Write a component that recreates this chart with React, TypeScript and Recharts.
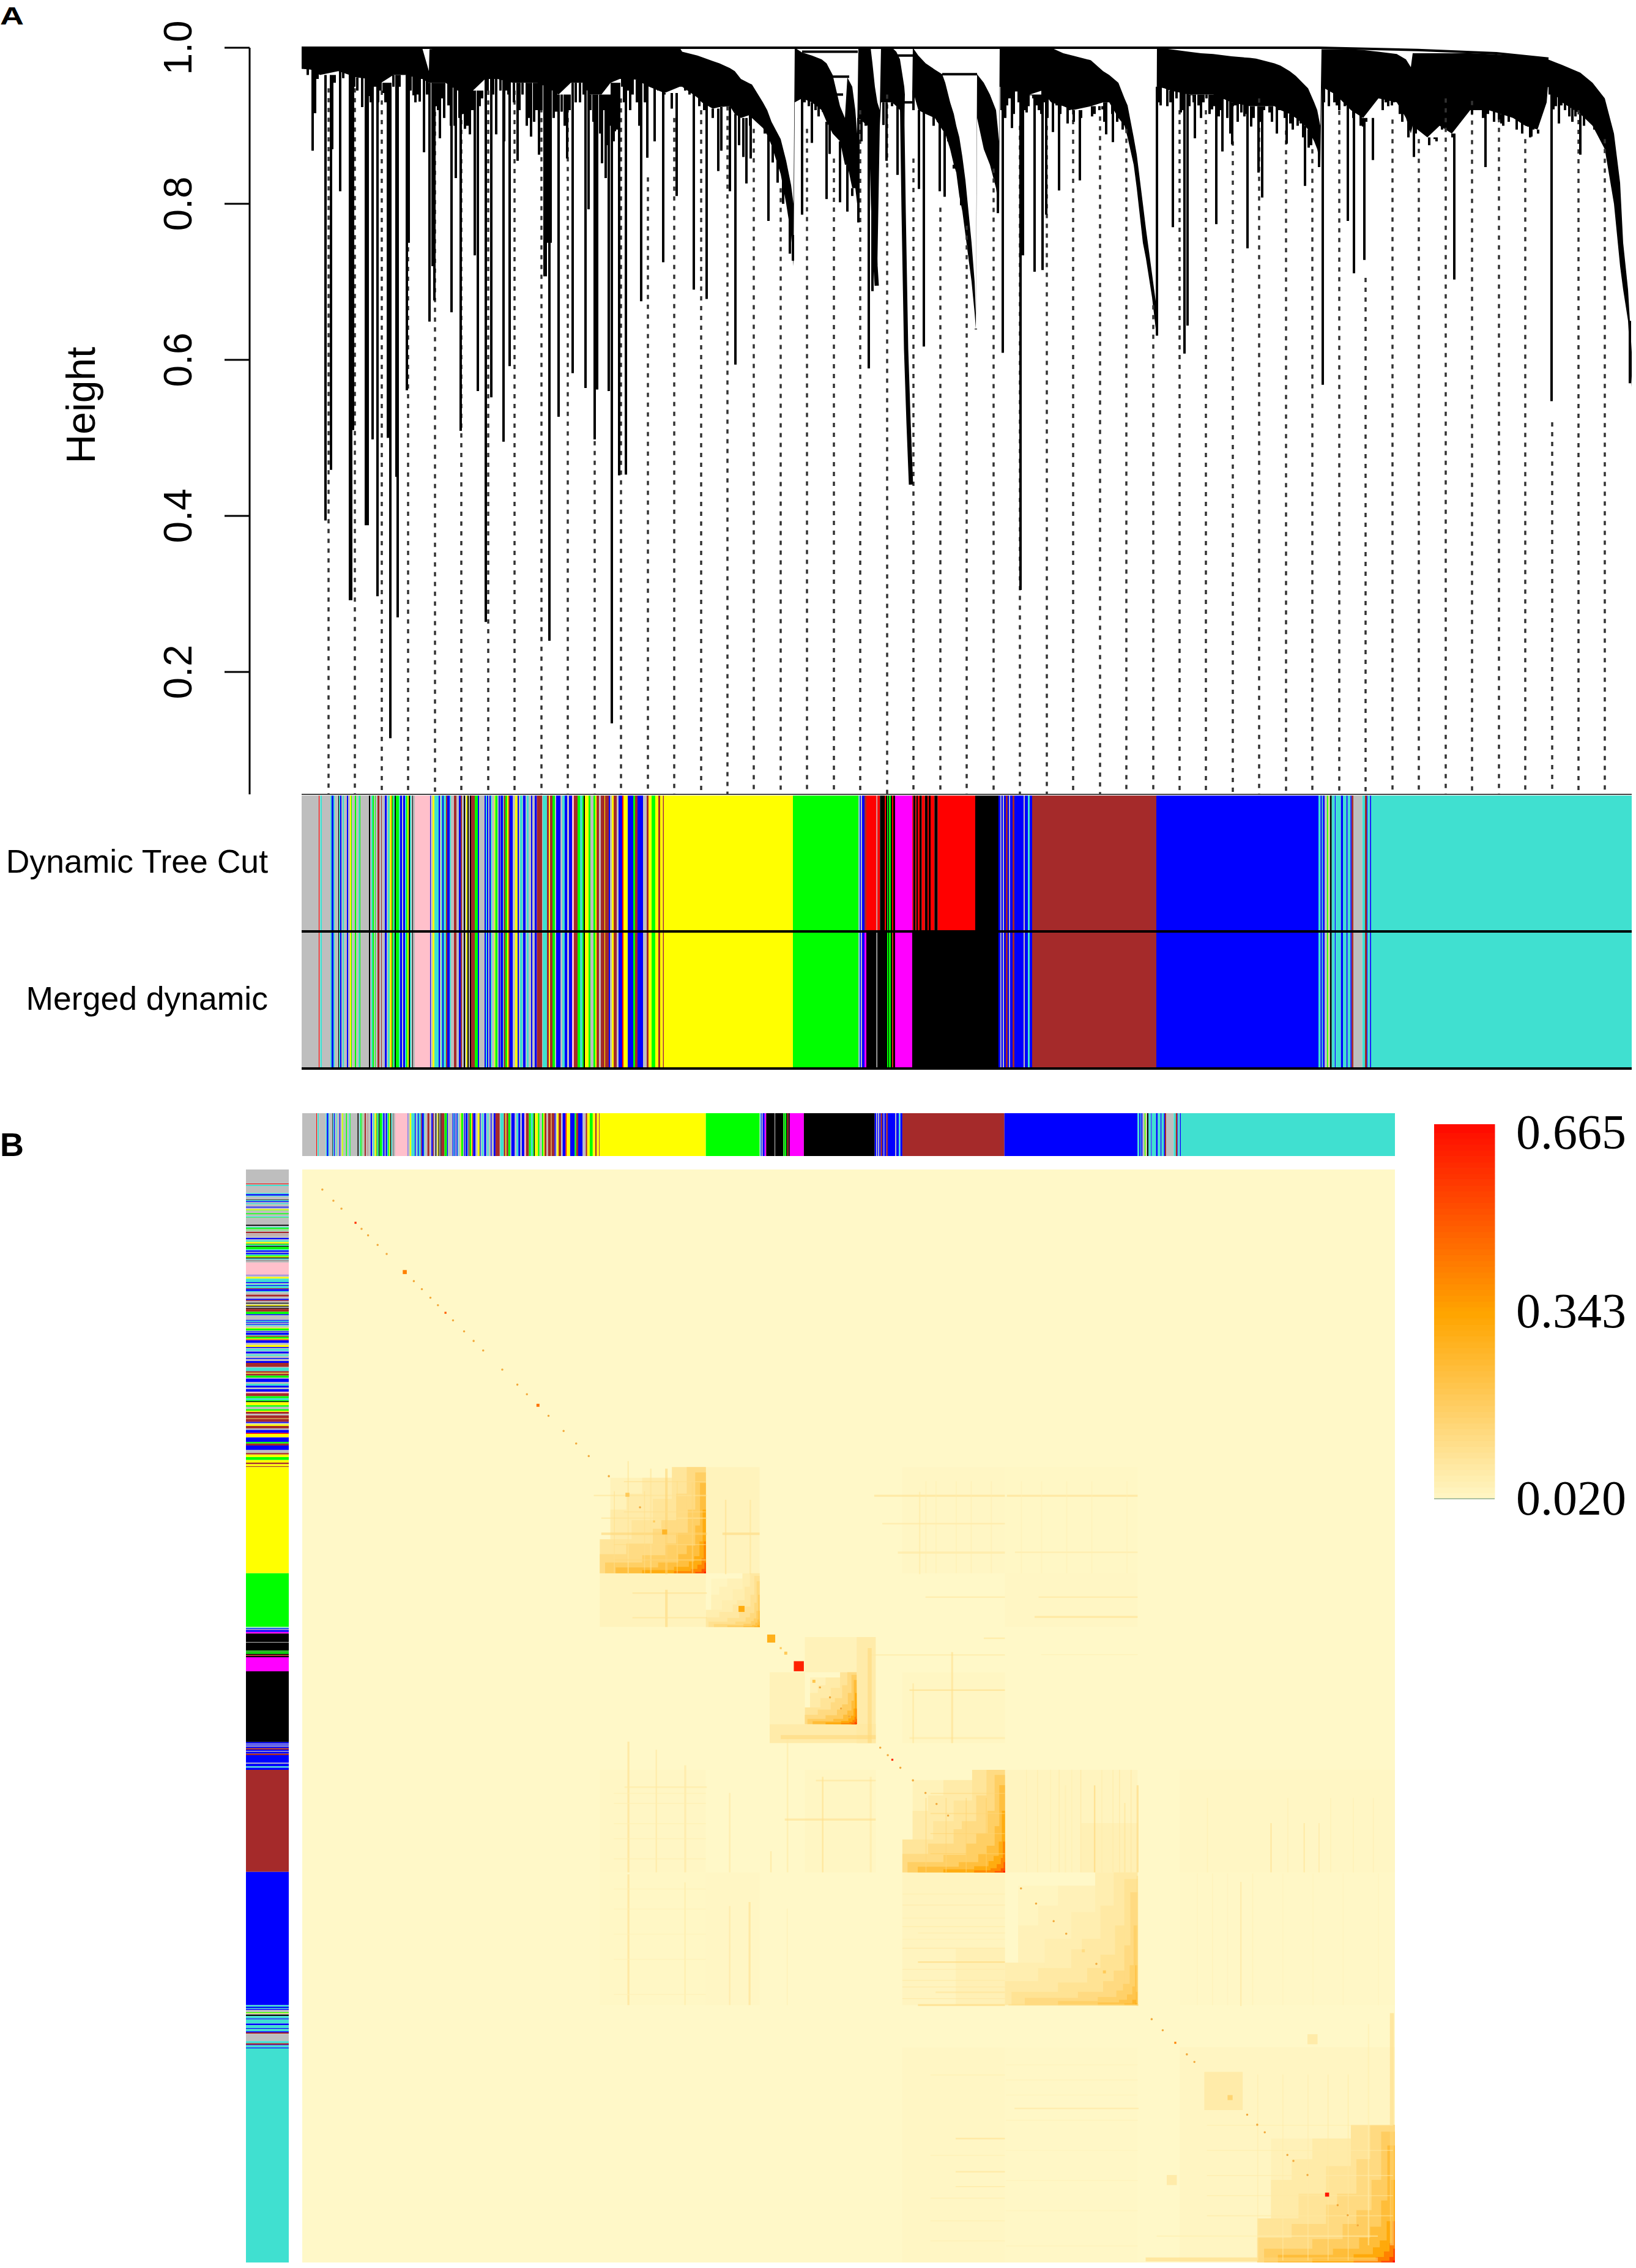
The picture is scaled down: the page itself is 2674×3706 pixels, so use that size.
import React from 'react';
import {
  Area,
  Bar,
  BarChart,
  ComposedChart,
  Line,
  ReferenceArea,
  ReferenceLine,
  Scatter,
  XAxis,
  YAxis,
  ZAxis,
} from 'recharts';

// every position along the tree, the strips and the heatmap is a gene rank (0 .. geneCount)
const geneCount = 2174;

const heightTicks = [0.2, 0.4, 0.6, 0.8, 1.0];
const stripRows = ['Dynamic Tree Cut', 'Merged dynamic'];
const tomTicks = [0.02, 0.343, 0.665];

const moduleFill: Record<string, string> = {
  grey: '#BEBEBE',
  turquoise: '#40E0D0',
  blue: '#0000FF',
  brown: '#A52A2A',
  yellow: '#FFFF00',
  green: '#00FF00',
  red: '#FF0000',
  black: '#000000',
  pink: '#FFC0CB',
  magenta: '#FF00FF',
};

// rank, upper and lower height of the solid mass of merges
const treeCanopy: [number, number, number][] = [
  [0, 1, 0.973], [15, 1, 0.972], [30, 1, 0.965], [60, 1, 0.97], [90, 1, 0.962], [110, 1, 0.96],
  [130, 1, 0.955], [150, 1, 0.965], [170, 1, 0.965], [195, 1, 0.96], [197, 1, 0.96], [208, 0.97, 0.955],
  [209, 0.998, 0.955], [235, 1, 0.955], [255, 1, 0.945], [280, 1, 0.945], [300, 1, 0.96], [320, 1, 0.96],
  [345, 1, 0.955], [370, 1, 0.955], [385, 1, 0.955], [400, 1, 0.95], [420, 1, 0.94], [440, 1, 0.955],
  [460, 1, 0.955], [470, 1, 0.94], [490, 1, 0.94], [505, 1, 0.955], [520, 1, 0.96], [535, 1, 0.96],
  [547, 1, 0.959], [568, 1, 0.95], [593, 1, 0.942], [618, 1, 0.95], [622, 0.995, 0.95], [647, 0.99, 0.936],
  [654, 0.988, 0.93], [672, 0.983, 0.922], [683, 0.98, 0.924], [700, 0.974, 0.925], [708, 0.97, 0.915],
  [718, 0.96, 0.91], [733, 0.954, 0.914], [736, 0.953, 0.91], [754, 0.93, 0.897], [761, 0.92, 0.888],
  [768, 0.905, 0.875], [783, 0.883, 0.838], [792, 0.855, 0.8], [800, 0.824, 0.76], [804, 0.8, 0.72],
  [806, 1, 0.93], [818, 0.994, 0.935], [834, 0.99, 0.93], [850, 0.985, 0.92], [858, 0.98, 0.905],
  [868, 0.965, 0.89], [880, 0.925, 0.88], [888, 0.91, 0.85], [892, 0.962, 0.85], [900, 0.95, 0.82],
  [905, 0.92, 0.82], [908, 0.89, 0.8], [910, 1, 0.91], [925, 1, 0.9], [930, 1, 0.85], [933, 0.98, 0.8],
  [937, 0.95, 0.76], [941, 0.93, 0.72], [945, 0.92, 0.9], [947, 1, 0.93], [965, 1, 0.93], [972, 0.995, 0.925],
  [978, 0.985, 0.92], [985, 0.95, 0.9], [986, 0.94, 0.94], [998, 0.94, 0.94], [999, 1, 0.945],
  [1008, 0.99, 0.92], [1020, 0.98, 0.915], [1035, 0.972, 0.91], [1047, 0.966, 0.895], [1052, 0.955, 0.89],
  [1060, 0.93, 0.87], [1066, 0.915, 0.85], [1070, 0.9, 0.84], [1075, 0.885, 0.81], [1080, 0.86, 0.79],
  [1085, 0.83, 0.76], [1090, 0.79, 0.73], [1095, 0.75, 0.7], [1100, 0.7, 0.66], [1102, 0.66, 0.64],
  [1104, 0.966, 0.91], [1115, 0.955, 0.87], [1125, 0.94, 0.85], [1135, 0.92, 0.82], [1140, 0.88, 0.79],
  [1141, 1, 0.95], [1170, 1, 0.945], [1190, 1, 0.94], [1210, 1, 0.945], [1225, 1, 0.93], [1245, 0.993, 0.925],
  [1260, 0.99, 0.92], [1290, 0.984, 0.925], [1310, 0.97, 0.93], [1320, 0.965, 0.93], [1335, 0.955, 0.91],
  [1345, 0.935, 0.9], [1350, 0.926, 0.885], [1360, 0.885, 0.85], [1365, 0.863, 0.82], [1375, 0.8, 0.75],
  [1380, 0.768, 0.73], [1390, 0.71, 0.68], [1396, 0.675, 0.64], [1398, 1, 0.95], [1410, 0.999, 0.948],
  [1420, 0.998, 0.945], [1450, 0.995, 0.94], [1470, 0.993, 0.94], [1490, 0.992, 0.94], [1520, 0.989, 0.93],
  [1550, 0.987, 0.925], [1560, 0.986, 0.925], [1590, 0.98, 0.925], [1600, 0.977, 0.92], [1615, 0.97, 0.915],
  [1625, 0.964, 0.91], [1640, 0.952, 0.9], [1645, 0.948, 0.895], [1655, 0.93, 0.88], [1660, 0.92, 0.87],
  [1665, 0.9, 0.85], [1667, 0.998, 0.95], [1690, 0.998, 0.94], [1715, 0.998, 0.92], [1735, 0.997, 0.91],
  [1760, 0.995, 0.935], [1790, 0.992, 0.93], [1805, 0.985, 0.91], [1813, 0.975, 0.89], [1816, 0.993, 0.9],
  [1840, 0.993, 0.885], [1860, 0.993, 0.9], [1880, 0.993, 0.89], [1910, 0.993, 0.92], [1940, 0.992, 0.92],
  [1960, 0.991, 0.915], [1980, 0.99, 0.91], [2000, 0.989, 0.9], [2020, 0.987, 0.895], [2035, 0.986, 0.93],
  [2037, 0.985, 0.95], [2060, 0.978, 0.93], [2090, 0.968, 0.915], [2110, 0.955, 0.9], [2130, 0.935, 0.87],
  [2145, 0.89, 0.8], [2155, 0.827, 0.72], [2160, 0.75, 0.69], [2168, 0.69, 0.65], [2174, 0.61, 0.565],
];

// rank and tip height of the single branches hanging from the mass
const treeDrops: [number, number][] = [
  [18, 0.868], [22, 0.916], [34, 0.965], [39, 0.394], [48, 0.459], [50, 0.87], [63, 0.816], [68, 0.961],
  [79, 0.292], [81, 0.292], [84, 0.51], [99, 0.924], [105, 0.388], [108, 0.388], [111, 0.938], [116, 0.498],
  [124, 0.297], [134, 0.942], [141, 0.5], [145, 0.115], [155, 0.45], [157, 0.27], [172, 0.561], [175, 0.75],
  [183, 0.939], [193, 0.931], [200, 0.866], [209, 0.649], [214, 0.72], [217, 0.676], [226, 0.884], [240, 0.926],
  [245, 0.661], [252, 0.833], [260, 0.509], [267, 0.896], [275, 0.889], [283, 0.734], [288, 0.56], [295, 0.935],
  [301, 0.264], [310, 0.552], [318, 0.889], [331, 0.88], [330, 0.495], [340, 0.592], [353, 0.855], [375, 0.886],
  [388, 0.863], [397, 0.707], [399, 0.707], [401, 0.75], [403, 0.75], [405, 0.24], [407, 0.75], [416, 0.918],
  [420, 0.527], [425, 0.918], [434, 0.858], [443, 0.583], [464, 0.564], [469, 0.793], [479, 0.498], [483, 0.562],
  [491, 0.852], [497, 0.833], [502, 0.56], [507, 0.134], [512, 0.893], [519, 0.452], [530, 0.453], [541, 0.94],
  [555, 0.675], [565, 0.859], [577, 0.88], [591, 0.725], [605, 0.922], [613, 0.81], [641, 0.69], [662, 0.678],
  [681, 0.842], [686, 0.868], [700, 0.816], [709, 0.594], [727, 0.826], [734, 0.858], [763, 0.778], [770, 0.853],
  [778, 0.827], [787, 0.8], [798, 0.736], [803, 0.727], [818, 0.786], [834, 0.878], [845, 0.912], [852, 0.918],
  [858, 0.806], [863, 0.864], [880, 0.802], [892, 0.79], [900, 0.81], [910, 0.776], [927, 0.589], [933, 0.688],
  [939, 0.699], [951, 0.901], [956, 0.855], [974, 0.837], [1009, 0.819], [1017, 0.617], [1043, 0.816], [1051, 0.809],
  [1066, 0.845], [1078, 0.798], [1102, 0.639], [1138, 0.788], [1146, 0.609], [1175, 0.305], [1179, 0.734],
  [1198, 0.713], [1211, 0.715], [1217, 0.786], [1238, 0.817], [1272, 0.83], [1326, 0.879], [1337, 0.917],
  [1398, 0.631], [1404, 0.926], [1424, 0.77], [1443, 0.608], [1448, 0.644], [1460, 0.884], [1495, 0.774],
  [1505, 0.867], [1521, 0.876], [1546, 0.743], [1564, 0.84], [1570, 0.808], [1594, 0.89], [1610, 0.877],
  [1640, 0.823], [1663, 0.847], [1669, 0.568], [1710, 0.778], [1720, 0.711], [1737, 0.728], [1751, 0.856],
  [1782, 0.926], [1818, 0.86], [1852, 0.883], [1884, 0.703], [1935, 0.847], [1961, 0.903], [2010, 0.886],
  [2043, 0.547], [2055, 0.903], [2090, 0.863], [2171, 0.57],
];

// the short fringe of branches under the mass
const treeFringe: [number, number][] = [
  [10, 0.965], [26, 0.96], [33, 0.965], [43, 0.97], [54, 0.955], [58, 0.965], [74, 0.967], [86, 0.95], [91, 0.945],
  [99, 0.93], [106, 0.94], [113, 0.93], [120, 0.95], [125, 0.93], [129, 0.945], [137, 0.93], [140, 0.94], [150, 0.95],
  [160, 0.95], [178, 0.945], [186, 0.93], [190, 0.94], [205, 0.94], [215, 0.935], [220, 0.925], [223, 0.92], [229, 0.935],
  [233, 0.91], [244, 0.9], [250, 0.9], [258, 0.91], [263, 0.915], [271, 0.9], [279, 0.92], [291, 0.925], [304, 0.945],
  [313, 0.94], [325, 0.945], [334, 0.945], [338, 0.94], [347, 0.93], [356, 0.92], [361, 0.94], [368, 0.9], [372, 0.91],
  [380, 0.905], [384, 0.92], [392, 0.92], [412, 0.91], [415, 0.918], [430, 0.9], [438, 0.92], [448, 0.93], [455, 0.93],
  [461, 0.94], [472, 0.92], [477, 0.905], [488, 0.89], [495, 0.92], [500, 0.875], [504, 0.9], [510, 0.88], [515, 0.895],
  [524, 0.95], [527, 0.93], [533, 0.945], [537, 0.92], [548, 0.93], [552, 0.9], [561, 0.93], [572, 0.95], [583, 0.945],
  [593, 0.94], [600, 0.955], [618, 0.95], [627, 0.945], [634, 0.94], [650, 0.925], [658, 0.92], [672, 0.91], [683, 0.93],
  [693, 0.93], [704, 0.93], [715, 0.875], [722, 0.86], [733, 0.9], [750, 0.905], [757, 0.89], [765, 0.88], [779, 0.85],
  [822, 0.93], [829, 0.925], [840, 0.92], [849, 0.925], [861, 0.93], [870, 0.9], [915, 0.88], [922, 0.9], [940, 0.91],
  [945, 0.93], [958, 0.93], [965, 0.925], [970, 0.93], [1000, 0.92], [1013, 0.93], [1025, 0.915], [1033, 0.9],
  [1040, 0.905], [1057, 0.88], [1072, 0.85], [1144, 0.92], [1147, 0.93], [1150, 0.91], [1153, 0.926], [1157, 0.935],
  [1161, 0.897], [1164, 0.915], [1168, 0.944], [1172, 0.93], [1178, 0.953], [1181, 0.92], [1185, 0.917], [1188, 0.925],
  [1192, 0.939], [1196, 0.935], [1202, 0.926], [1205, 0.92], [1209, 0.915], [1213, 0.93], [1219, 0.91], [1223, 0.944],
  [1228, 0.892], [1231, 0.93], [1234, 0.926], [1240, 0.915], [1246, 0.93], [1252, 0.903], [1255, 0.92], [1258, 0.935],
  [1262, 0.905], [1266, 0.926], [1270, 0.92], [1274, 0.91], [1277, 0.926], [1283, 0.921], [1287, 0.93], [1292, 0.912],
  [1296, 0.915], [1300, 0.93], [1304, 0.92], [1309, 0.921], [1312, 0.905], [1315, 0.889], [1321, 0.94], [1325, 0.915],
  [1330, 0.93], [1333, 0.905], [1338, 0.926], [1342, 0.895], [1347, 0.917], [1402, 0.93], [1411, 0.948], [1415, 0.925],
  [1420, 0.93], [1424, 0.953], [1430, 0.935], [1437, 0.917], [1441, 0.92], [1445, 0.944], [1451, 0.925], [1454, 0.939],
  [1458, 0.93], [1466, 0.926], [1470, 0.91], [1474, 0.93], [1479, 0.935], [1484, 0.915], [1488, 0.921], [1492, 0.925],
  [1499, 0.912], [1503, 0.92], [1509, 0.935], [1513, 0.91], [1518, 0.89], [1522, 0.925], [1526, 0.926], [1530, 0.905],
  [1536, 0.917], [1541, 0.912], [1545, 0.915], [1552, 0.899], [1556, 0.91], [1559, 0.93], [1567, 0.905], [1573, 0.92],
  [1576, 0.93], [1582, 0.917], [1586, 0.905], [1590, 0.926], [1598, 0.92], [1603, 0.935], [1607, 0.91], [1616, 0.903],
  [1620, 0.895], [1624, 0.912], [1628, 0.9], [1633, 0.903], [1637, 0.885], [1646, 0.872], [1650, 0.875], [1656, 0.881],
  [1671, 0.93], [1675, 0.948], [1679, 0.925], [1684, 0.953], [1688, 0.93], [1692, 0.926], [1696, 0.92], [1701, 0.948],
  [1705, 0.925], [1710, 0.915], [1714, 0.944], [1719, 0.91], [1727, 0.926], [1731, 0.9], [1735, 0.899], [1740, 0.905],
  [1744, 0.921], [1750, 0.92], [1756, 0.93], [1761, 0.953], [1767, 0.92], [1772, 0.93], [1776, 0.925], [1785, 0.93],
  [1790, 0.948], [1795, 0.915], [1799, 0.905], [1803, 0.926], [1809, 0.885], [1821, 0.89], [1825, 0.912], [1831, 0.908],
  [1835, 0.89], [1840, 0.912], [1843, 0.875], [1846, 0.899], [1850, 0.89], [1855, 0.88], [1859, 0.917], [1864, 0.895],
  [1867, 0.926], [1872, 0.905], [1876, 0.939], [1881, 0.885], [1888, 0.91], [1893, 0.939], [1898, 0.915], [1903, 0.905],
  [1906, 0.93], [1913, 0.915], [1918, 0.935], [1922, 0.92], [1927, 0.926], [1931, 0.91], [1939, 0.915], [1944, 0.939],
  [1949, 0.905], [1953, 0.92], [1957, 0.908], [1964, 0.9], [1968, 0.921], [1973, 0.905], [1978, 0.915], [1982, 0.93],
  [1986, 0.895], [1991, 0.912], [1995, 0.89], [2000, 0.903], [2005, 0.899], [2008, 0.885], [2013, 0.895], [2016, 0.912],
  [2021, 0.89], [2025, 0.912], [2030, 0.905], [2040, 0.94], [2046, 0.921], [2050, 0.925], [2059, 0.926], [2065, 0.92],
  [2072, 0.912], [2077, 0.905], [2082, 0.912], [2096, 0.9], [2101, 0.91], [2106, 0.935], [2113, 0.895], [2119, 0.917],
  [2123, 0.885], [2127, 0.908],
];

// thin joining branches, each one a list of rank/height points
const treeBranches: [number, number][][] = [
  [[0, 1], [1663, 1], [1825, 0.997], [1953, 0.993], [2038, 0.986]],
  [[818, 0.995], [909, 0.995]],
  [[965, 0.99], [999, 0.99]],
  [[868, 0.963], [895, 0.963]],
  [[1047, 0.966], [1104, 0.966]],
  [[983, 0.93], [999, 0.93]],
  [[870, 0.94], [885, 0.94]],
];

// the two long thick branches that run down to the lowest tips
const treeCurves: [number, number][][] = [
  [[981, 0.95], [984, 0.79], [988, 0.614], [992, 0.52], [996, 0.44]],
  [[929, 0.95], [934, 0.8], [938, 0.72], [940, 0.695]],
];

// dashed cut guides: rank and the height they start from
const guideRanks = [
  44, 87, 131, 174, 218, 261, 305, 348, 392, 435, 479, 522, 566, 609, 653, 696, 739, 783, 826, 870, 913, 957, 1000,
  1044, 1087, 1131, 1174, 1218, 1261, 1305, 1348, 1392, 1435, 1478, 1522, 1565, 1609, 1652, 1696, 1739, 1783, 1826,
  1870, 1913, 1957, 2000, 2044, 2087, 2130,
];
const guideTops = [
  0.948, 0.948, 0.945, 0.945, 0.943, 0.945, 0.945, 0.945, 0.935, 0.935, 0.935, 0.935, 0.834, 0.91, 0.92, 0.925,
  0.896, 0.82, 0.896, 0.858, 0.92, 0.94, 0.858, 0.795, 0.772, 0.845, 0.9, 0.9, 0.92, 0.912, 0.896, 0.67, 0.92, 0.92,
  0.88, 0.935, 0.894, 0.87, 0.932, 0.705, 0.908, 0.883, 0.935, 0.932, 0.91, 0.883, 0.52, 0.92, 0.883,
];

// module colour runs in tree order: module and the rank it starts at
const runsBeforeCut: [string, number][] = [
  ['grey', 0], ['red', 28], ['grey', 29.5], ['turquoise', 30.5], ['grey', 33], ['turquoise', 47], ['blue', 49],
  ['turquoise', 52], ['grey', 54], ['black', 60], ['turquoise', 61], ['blue', 63], ['grey', 65], ['turquoise', 67],
  ['grey', 69], ['blue', 74], ['grey', 76], ['yellow', 79], ['green', 81], ['grey', 82], ['green', 87], ['grey', 89],
  ['turquoise', 93], ['green', 95], ['grey', 96], ['black', 110], ['grey', 112], ['turquoise', 114], ['green', 116],
  ['grey', 118], ['green', 120], ['grey', 121], ['brown', 124], ['grey', 127], ['brown', 130], ['grey', 131],
  ['blue', 136], ['grey', 139], ['turquoise', 141], ['yellow', 144], ['brown', 147], ['green', 148], ['turquoise', 150],
  ['black', 152], ['green', 154], ['turquoise', 159], ['blue', 161], ['grey', 164], ['blue', 166], ['turquoise', 169],
  ['green', 171], ['yellow', 173], ['black', 175], ['turquoise', 177], ['grey', 179], ['black', 181], ['grey', 182],
  ['pink', 185], ['blue', 210], ['grey', 211], ['yellow', 214], ['turquoise', 217], ['blue', 224], ['grey', 226],
  ['turquoise', 228], ['blue', 230], ['turquoise', 232], ['brown', 236], ['blue', 238], ['turquoise', 242], ['grey', 244],
  ['brown', 249], ['grey', 253], ['blue', 257], ['brown', 260], ['grey', 262], ['black', 265], ['grey', 267],
  ['yellow', 269], ['black', 271], ['grey', 273], ['black', 275], ['brown', 277], ['green', 283], ['blue', 288],
  ['grey', 290], ['blue', 299], ['turquoise', 301], ['blue', 303], ['grey', 305], ['blue', 307], ['turquoise', 309],
  ['grey', 311], ['yellow', 315], ['green', 316.5], ['grey', 320], ['blue', 322], ['grey', 324], ['blue', 325],
  ['turquoise', 329], ['brown', 330.5], ['green', 333], ['yellow', 336], ['brown', 338], ['blue', 340], ['grey', 345],
  ['yellow', 349], ['blue', 353], ['grey', 355], ['turquoise', 357], ['grey', 361], ['blue', 362], ['grey', 366],
  ['turquoise', 368], ['grey', 371], ['blue', 375], ['grey', 377], ['blue', 381], ['brown', 384.5], ['grey', 393],
  ['turquoise', 394], ['brown', 401], ['yellow', 404.3], ['brown', 406], ['green', 410], ['grey', 414], ['blue', 416],
  ['grey', 423], ['turquoise', 426], ['blue', 430], ['grey', 434], ['blue', 437], ['pink', 442], ['brown', 445],
  ['green', 451], ['turquoise', 455], ['green', 459], ['black', 461], ['yellow', 463], ['green', 469], ['grey', 472],
  ['green', 477], ['yellow', 480], ['brown', 482], ['grey', 486], ['brown', 489], ['yellow', 495], ['brown', 496],
  ['blue', 502], ['grey', 504], ['yellow', 507], ['brown', 510], ['grey', 515], ['blue', 518], ['red', 524],
  ['yellow', 526], ['blue', 533], ['green', 542], ['brown', 545], ['blue', 549], ['grey', 558], ['brown', 564],
  ['yellow', 567], ['green', 572], ['yellow', 578], ['brown', 583], ['yellow', 586], ['brown', 590.5], ['yellow', 592],
  ['green', 803], ['grey', 910], ['turquoise', 911], ['blue', 912.5], ['grey', 914], ['blue', 916],
];
const dynamicRuns: [string, number][] = [
  ['brown', 920], ['red', 923], ['grey', 939.7], ['red', 941], ['black', 945.3], ['red', 953], ['black', 955],
  ['green', 957], ['black', 958.5], ['green', 960], ['black', 963], ['red', 965], ['black', 967], ['magenta', 970],
  ['red', 998], ['black', 999.7], ['red', 1003], ['black', 1004.7], ['red', 1007], ['black', 1010], ['red', 1013.7],
  ['black', 1018.7], ['red', 1023], ['black', 1025], ['red', 1028], ['black', 1034.3], ['red', 1039.7], ['black', 1101],
];
const mergedRuns: [string, number][] = [
  ['magenta', 920], ['black', 923], ['grey', 939.7], ['black', 941], ['green', 957], ['black', 959], ['green', 960],
  ['black', 963], ['red', 965.5], ['black', 967], ['magenta', 970], ['black', 998],
];
const runsAfterCut: [string, number][] = [
  ['blue', 1139], ['grey', 1142], ['blue', 1143.7], ['grey', 1146], ['blue', 1148], ['brown', 1151], ['blue', 1154],
  ['grey', 1156.5], ['blue', 1158], ['brown', 1162], ['blue', 1165], ['grey', 1180], ['blue', 1182], ['turquoise', 1187],
  ['blue', 1190], ['brown', 1194], ['blue', 1397], ['turquoise', 1662], ['blue', 1665.3], ['turquoise', 1667.7],
  ['blue', 1669.3], ['grey', 1672], ['green', 1676], ['yellow', 1677.7], ['grey', 1678.7], ['black', 1681],
  ['turquoise', 1683.7], ['blue', 1688.7], ['turquoise', 1690.3], ['blue', 1698.7], ['turquoise', 1702], ['blue', 1707.7],
  ['turquoise', 1709.7], ['blue', 1714.3], ['brown', 1716.3], ['grey', 1719], ['turquoise', 1733.7], ['brown', 1738],
  ['blue', 1741], ['turquoise', 1742.3], ['blue', 1746.3], ['turquoise', 1748],
];

// topological overlap: diagonal module blocks as start rank, end rank, peak value at the corner
const tomBlocks: [number, number, number][] = [
  [592, 803, 0.64],
  [803, 910, 0.36],
  [1000, 1103, 0.66],
  [1194, 1398, 0.64],
  [1398, 1662, 0.34],
  [1900, 2174, 0.66],
];
// value share of the peak and the steps (width, height) of its contour inside a block
const tomContours: [number, [number, number][]][] = [
  [0.04, [[0.9, 0.9]]],
  [0.08, [[0.9, 0.6], [0.75, 0.75], [0.6, 0.9]]],
  [0.12, [[1, 0.32], [0.7, 0.5], [0.5, 0.7], [0.32, 1]]],
  [0.18, [[1, 0.18], [0.75, 0.28], [0.5, 0.42], [0.42, 0.5], [0.28, 0.75], [0.18, 1]]],
  [0.26, [[0.95, 0.1], [0.6, 0.17], [0.38, 0.28], [0.28, 0.38], [0.17, 0.6], [0.1, 0.95]]],
  [0.36, [[0.85, 0.055], [0.45, 0.1], [0.26, 0.18], [0.18, 0.26], [0.1, 0.45], [0.055, 0.85]]],
  [0.48, [[0.6, 0.03], [0.3, 0.06], [0.16, 0.11], [0.11, 0.16], [0.06, 0.3], [0.03, 0.6]]],
  [0.62, [[0.3, 0.02], [0.14, 0.04], [0.08, 0.08], [0.04, 0.14], [0.02, 0.3]]],
  [0.8, [[0.1, 0.012], [0.04, 0.04], [0.012, 0.1]]],
  [1, [[0.015, 0.015]]],
];
// pale overlap between modules: x from, x to, y from, y to, value (drawn mirrored too)
const tomTiles: [number, number, number, number, number][] = [
  [592, 803, 803, 910, 0.04],
  [930, 1103, 1103, 1141, 0.07],
  [930, 1000, 1000, 1103, 0.045],
  [1103, 1141, 1103, 1141, 0.08],
  [1000, 1141, 1194, 1398, 0.028],
  [1194, 1398, 1398, 1662, 0.034],
  [1300, 1398, 1550, 1662, 0.05],
  [592, 803, 1194, 1398, 0.026],
  [592, 803, 1398, 1662, 0.025],
  [803, 910, 1398, 1662, 0.027],
  [1398, 1662, 1746, 2174, 0.024],
  [1194, 1398, 1746, 2174, 0.027],
  [1746, 2174, 1746, 2174, 0.03],
  [1795, 1871, 1795, 1871, 0.07],
  [1985, 2022, 1985, 2022, 0.08],
  [1940, 1965, 1940, 1965, 0.08],
  [1720, 1740, 2000, 2020, 0.07],
];
// streaks left by single genes: row rank, x from, x to, thickness, value (drawn mirrored too)
const tomStreaks: [number, number, number, number, number][] = [
  [647, 1138, 1398, 4, 0.12], [647, 1402, 1662, 4, 0.12], [647, 580, 805, 3, 0.1], [692, 595, 805, 3, 0.1],
  [703, 1154, 1398, 3, 0.09], [722, 595, 805, 5, 0.16], [722, 836, 910, 5, 0.15], [760, 1185, 1398, 4, 0.09],
  [760, 1418, 1662, 3, 0.08], [775, 620, 803, 3, 0.15], [841, 657, 805, 3, 0.12], [849, 1240, 1398, 3, 0.09],
  [849, 1465, 1662, 3, 0.09], [888, 1457, 1662, 4, 0.12], [890, 657, 805, 3, 0.1], [931, 1356, 1398, 3, 0.1],
  [964, 1130, 1398, 3, 0.08], [964, 1470, 1662, 2, 0.06], [1034, 1208, 1398, 3, 0.13], [1125, 952, 1141, 8, 0.15],
  [1129, 1208, 1398, 4, 0.08], [1214, 1022, 1141, 3, 0.1], [1227, 641, 805, 3, 0.08], [1291, 960, 1141, 4, 0.12],
  [1517, 1225, 1398, 3, 0.06], [1575, 1225, 1398, 3, 0.16], [1635, 1260, 1398, 3, 0.1], [1660, 1225, 1398, 4, 0.15],
  [1660, 1405, 1664, 3, 0.13], [1866, 1417, 1664, 3, 0.09], [1926, 1300, 1398, 3, 0.12], [1992, 1300, 1398, 3, 0.1],
  [2022, 1300, 1398, 2, 0.1], [2120, 1700, 2140, 3, 0.06], [2164, 1678, 2140, 8, 0.14],
  [1440, 1194, 1398, 2, 0.06], [1462, 1194, 1398, 2, 0.07], [1488, 1194, 1398, 2, 0.06], [1505, 1194, 1398, 2, 0.08],
  [1530, 1194, 1398, 2, 0.06], [1548, 1194, 1398, 2, 0.09], [1590, 1194, 1398, 2, 0.07], [1612, 1194, 1398, 2, 0.08],
  [1625, 1194, 1398, 2, 0.09], [1648, 1194, 1398, 2, 0.09], [1780, 1400, 1662, 2, 0.04], [1810, 1400, 1662, 2, 0.05],
  [1840, 1400, 1662, 2, 0.04], [1890, 1400, 1662, 2, 0.05], [1950, 1400, 1662, 2, 0.04], [2010, 1400, 1662, 2, 0.045],
  [2070, 1400, 1662, 2, 0.04], [2140, 1400, 1662, 2, 0.045], [1800, 1250, 1398, 2, 0.06], [1960, 1250, 1398, 2, 0.06],
  [2045, 1250, 1398, 2, 0.06], [2090, 1250, 1398, 2, 0.06], [2130, 1250, 1398, 2, 0.06], [1240, 620, 803, 2, 0.06],
  [1260, 620, 803, 2, 0.06], [1300, 620, 803, 2, 0.06], [1330, 620, 803, 2, 0.06], [1370, 620, 803, 2, 0.06],
  [1430, 620, 803, 2, 0.05], [1470, 620, 803, 2, 0.05], [1520, 620, 803, 2, 0.05], [1570, 620, 803, 2, 0.05],
  [1640, 620, 803, 2, 0.05], [620, 640, 803, 2, 0.12], [680, 640, 803, 2, 0.12], [745, 620, 803, 2, 0.13],
  [1240, 1250, 1398, 2, 0.15], [1280, 1250, 1398, 2, 0.15], [1320, 1250, 1398, 2, 0.16], [1360, 1250, 1398, 2, 0.18],
  [1900, 1800, 2170, 2, 0.07], [1950, 1800, 2170, 2, 0.07], [2000, 1800, 2170, 2, 0.07], [2040, 1800, 2170, 2, 0.08],
  [2080, 1800, 2170, 2, 0.08],
];
// brightest spots on the diagonal: rank, half size, value
const tomSpots: [number, number, number][] = [
  [106, 2, 0.6], [204, 4, 0.42], [285, 2, 0.5], [469, 3, 0.45], [647, 4, 0.2], [700, 2, 0.2], [721, 5, 0.28],
  [874, 6, 0.32], [933, 8, 0.3], [952, 2, 0.2], [962, 3, 0.2], [988, 10, 0.62], [1018, 3, 0.22], [1174, 2, 0.6],
  [1554, 3, 0.13], [1596, 3, 0.2], [1737, 2, 0.42], [1846, 5, 0.16], [2039, 4, 0.64],
];
const tomSpeckRanks = [
  40, 62, 78, 118, 131, 150, 168, 222, 238, 255, 270, 300, 322, 341, 360, 398, 428, 447, 490, 520, 545, 570, 610, 672,
  1030, 1050, 1072, 1088, 1150, 1165, 1190, 1215, 1240, 1262, 1285, 1430, 1460, 1495, 1520, 1580, 1690, 1712, 1760,
  1775, 1880, 1900, 1915, 1960, 1972, 2000, 2060, 2080, 2100,
];

const legendLevels = [
  0.02, 0.03, 0.04, 0.05, 0.06, 0.07, 0.08, 0.09, 0.1, 0.11, 0.12, 0.13, 0.14, 0.15, 0.16, 0.17, 0.18, 0.19, 0.2, 0.21,
  0.22, 0.23, 0.24, 0.25, 0.26, 0.27, 0.28, 0.29, 0.3, 0.31, 0.32, 0.33, 0.343, 0.35, 0.36, 0.37, 0.38, 0.39, 0.4, 0.41,
  0.42, 0.43, 0.44, 0.45, 0.46, 0.47, 0.48, 0.49, 0.5, 0.51, 0.52, 0.53, 0.54, 0.55, 0.56, 0.57, 0.58, 0.59, 0.6, 0.61,
  0.62, 0.63, 0.64, 0.65, 0.665,
];

function tomFill(value: number) {
  const pale = [255, 248, 200];
  const orange = [255, 165, 0];
  const red = [255, 12, 0];
  const low = value < 0.343;
  const t = low ? Math.max(0, value - 0.02) / 0.323 : Math.min(1, (value - 0.343) / 0.322);
  const [a, b] = low ? [pale, orange] : [orange, red];
  const mix = a.map((c, i) => Math.round(c + (b[i] - c) * t));
  return `rgb(${mix[0]},${mix[1]},${mix[2]})`;
}

const canopyRows = treeCanopy.map(([rank, upper, lower]) => ({ rank, band: [lower, upper] }));

function canopyFloor(rank: number) {
  let floor = treeCanopy[0][2];
  for (const [r, , lower] of treeCanopy) {
    if (r > rank) break;
    floor = lower;
  }
  return floor;
}

const dropRows = [...treeDrops, ...treeFringe].flatMap(([rank, tip]) => [
  { rank, height: Math.max(canopyFloor(rank), tip) },
  { rank, height: tip },
  { rank, height: null },
]);
const guideFloor = 0.0431;
const guideRows = guideRanks.flatMap((rank, i) => [
  { rank, height: guideTops[i] },
  { rank, height: guideFloor },
  { rank, height: null },
]);
const polylineRows = (lines: [number, number][][]) =>
  lines.flatMap((line) => [
    ...line.map(([rank, height]) => ({ rank, height })),
    { rank: line[line.length - 1][0], height: null },
  ]);
const branchRows = polylineRows(treeBranches);
const curveRows = polylineRows(treeCurves);

function stripSegments(runs: [string, number][]) {
  return runs.map(([module, start], i) => ({
    key: `s${i}`,
    module,
    size: (i + 1 < runs.length ? runs[i + 1][1] : geneCount) - start,
  }));
}
const dynamicSegments = stripSegments([...runsBeforeCut, ...dynamicRuns, ...runsAfterCut]);
const mergedSegments = stripSegments([...runsBeforeCut, ...mergedRuns, ...runsAfterCut]);

type Segment = { key: string; module: string; size: number };

function stripRow(name: string, segments: Segment[]) {
  const row: Record<string, string | number> = { name };
  segments.forEach((s) => {
    row[s.key] = s.size;
  });
  return [row];
}

function segmentBars(segments: Segment[]) {
  return segments.map((s) => (
    <Bar key={s.key} dataKey={s.key} stackId="modules" fill={moduleFill[s.module]} isAnimationActive={false} />
  ));
}

function HeightTick({ x, y, payload }: any) {
  const tx = x - 52;
  return (
    <text
      x={tx}
      y={y}
      transform={`rotate(-90 ${tx} ${y})`}
      textAnchor="middle"
      fontFamily="Liberation Sans"
      fontSize={64}
      fill="#000"
    >
      {payload.value.toFixed(1)}
    </text>
  );
}

function TreePanel() {
  return (
    <ComposedChart width={2674} height={1300} margin={{ top: 78, right: 7, bottom: 2, left: 0 }}>
      <XAxis type="number" dataKey="rank" domain={[-85, geneCount]} hide />
      <YAxis
        type="number"
        domain={[guideFloor, 1]}
        ticks={heightTicks}
        width={408}
        tickSize={41}
        tick={<HeightTick />}
        stroke="#000"
        strokeWidth={3}
        label={{
          value: 'Height',
          angle: -90,
          position: 'center',
          dx: -72,
          dy: -26,
          fontFamily: 'Liberation Sans',
          fontSize: 66,
          fill: '#000',
        }}
      />
      <ReferenceLine
        segment={[{ x: 0, y: guideFloor }, { x: geneCount, y: guideFloor }]}
        stroke="#444"
        strokeWidth={2}
      />
      <Line
        data={guideRows}
        dataKey="height"
        stroke="#333"
        strokeWidth={3.5}
        strokeDasharray="7 9"
        dot={false}
        isAnimationActive={false}
      />
      <Area data={canopyRows} dataKey="band" stroke="none" fill="#000" fillOpacity={1} isAnimationActive={false} />
      <Line data={dropRows} dataKey="height" stroke="#000" strokeWidth={4} dot={false} isAnimationActive={false} />
      <Line data={branchRows} dataKey="height" stroke="#000" strokeWidth={4} dot={false} isAnimationActive={false} />
      <Line data={curveRows} dataKey="height" stroke="#000" strokeWidth={7} dot={false} isAnimationActive={false} />
    </ComposedChart>
  );
}

function TreeCutStrip({ name, segments, height }: { name: string; segments: Segment[]; height: number }) {
  return (
    <BarChart
      layout="vertical"
      width={2674}
      height={height + 4}
      data={stripRow(name, segments)}
      barCategoryGap={0}
      margin={{ top: 0, right: 7, bottom: 0, left: 0 }}
    >
      <XAxis
        type="number"
        domain={[0, geneCount]}
        tick={false}
        tickLine={false}
        height={4}
        axisLine={{ stroke: '#000', strokeWidth: 4 }}
      />
      <YAxis
        type="category"
        dataKey="name"
        width={493}
        axisLine={false}
        tickLine={false}
        tickMargin={49}
        tick={{ fontFamily: 'Liberation Sans', fontSize: 53.5, fill: '#000', dy: -4 }}
      />
      {segmentBars(segments)}
    </BarChart>
  );
}

function TopStrip() {
  return (
    <BarChart
      layout="vertical"
      width={1786}
      height={70}
      data={stripRow('modules', mergedSegments)}
      barCategoryGap={0}
      margin={{ top: 0, right: 0, bottom: 0, left: 0 }}
    >
      <XAxis type="number" domain={[0, geneCount]} hide />
      <YAxis type="category" dataKey="name" hide />
      {segmentBars(mergedSegments)}
    </BarChart>
  );
}

function LeftStrip() {
  return (
    <BarChart
      width={70}
      height={1786}
      data={stripRow('modules', mergedSegments)}
      barCategoryGap={0}
      margin={{ top: 0, right: 0, bottom: 0, left: 0 }}
    >
      <XAxis type="category" dataKey="name" hide />
      <YAxis type="number" domain={[0, geneCount]} reversed hide />
      {segmentBars(mergedSegments)}
    </BarChart>
  );
}

function tomArea(key: string, x1: number, x2: number, y1: number, y2: number, value: number, opacity = 1) {
  return (
    <ReferenceArea
      key={key}
      x1={x1}
      x2={x2}
      y1={y1}
      y2={y2}
      fill={tomFill(value)}
      fillOpacity={opacity}
      stroke="none"
    />
  );
}

function TomHeatmap() {
  const specks = tomSpeckRanks.map((rank) => ({ rank }));
  return (
    <ComposedChart width={1786} height={1786} margin={{ top: 0, right: 0, bottom: 0, left: 0 }}>
      <XAxis type="number" dataKey="rank" domain={[0, geneCount]} hide />
      <YAxis type="number" dataKey="rank" domain={[0, geneCount]} reversed hide />
      <ZAxis range={[10, 10]} />
      {tomArea('base', 0, geneCount, 0, geneCount, 0.02)}
      {tomTiles.flatMap(([x0, x1, y0, y1, v], i) => [
        tomArea(`tile${i}`, x0, x1, y0, y1, v),
        tomArea(`tileM${i}`, y0, y1, x0, x1, v),
      ])}
      {tomBlocks.flatMap(([start, end, peak], b) =>
        tomContours.flatMap(([share, steps], c) =>
          steps.map(([w, h], s) =>
            tomArea(
              `b${b}c${c}s${s}`,
              end - w * (end - start),
              end,
              end - h * (end - start),
              end,
              0.02 + (peak - 0.02) * share,
            ),
          ),
        ),
      )}
      {tomStreaks.flatMap(([row, from, to, thick, v], i) => [
        tomArea(`st${i}`, from, to, row, row + thick, v, 0.55),
        tomArea(`stM${i}`, row, row + thick, from, to, v, 0.55),
      ])}
      {tomSpots.map(([rank, half, v], i) => tomArea(`spot${i}`, rank - half, rank + half, rank - half, rank + half, v))}
      <Scatter data={specks} dataKey="rank" fill="#F2A93B" isAnimationActive={false} />
    </ComposedChart>
  );
}

function TomLegendTick({ x, y, payload }: any) {
  const nudge = payload.value === 0.665 ? 14 : 0;
  return (
    <text x={x + 27} y={y + nudge} dy="0.33em" fontFamily="Liberation Serif" fontSize={80} fill="#000">
      {payload.value.toFixed(3)}
    </text>
  );
}

function TomLegend() {
  const row: Record<string, string | number> = { name: 'tom' };
  legendLevels.forEach((level, i) => {
    row[`l${i}`] = i === 0 ? level : level - legendLevels[i - 1];
  });
  return (
    <BarChart
      width={330}
      height={732}
      data={[row]}
      barCategoryGap={0}
      margin={{ top: 60, right: 0, bottom: 60, left: 0 }}
    >
      <XAxis type="category" dataKey="name" hide />
      <YAxis
        type="number"
        orientation="right"
        domain={[0.02, 0.665]}
        allowDataOverflow
        ticks={tomTicks}
        width={231}
        axisLine={false}
        tickLine={false}
        tick={<TomLegendTick />}
      />
      {legendLevels.map((level, i) => (
        <Bar
          key={i}
          dataKey={`l${i}`}
          stackId="tom"
          fill={tomFill(level)}
          stroke={tomFill(level)}
          isAnimationActive={false}
        />
      ))}
      <ReferenceLine y={0.02} stroke="#A9BFA0" strokeWidth={2} />
    </BarChart>
  );
}

const place = (left: number, top: number): React.CSSProperties => ({ position: 'absolute', left, top });
const panelLetter: React.CSSProperties = {
  position: 'absolute',
  left: 0,
  fontFamily: 'Liberation Sans',
  fontWeight: 700,
  fontSize: 54,
  lineHeight: 1,
  color: '#000',
};

export default function App() {
  return (
    <div style={{ position: 'absolute', left: 0, top: 0, width: 2674, height: 3706, background: '#fff' }}>
      <div style={{ ...panelLetter, top: -6, transform: 'scaleY(0.75)', transformOrigin: '0 46px' }}>A</div>
      <div style={{ ...panelLetter, top: 1843 }}>B</div>
      <div style={place(0, 0)}>
        <TreePanel />
      </div>
      <div style={place(0, 1300)}>
        <TreeCutStrip name={stripRows[0]} segments={dynamicSegments} height={222} />
      </div>
      <div style={place(0, 1524)}>
        <TreeCutStrip name={stripRows[1]} segments={mergedSegments} height={222} />
      </div>
      <div style={place(494, 1819)}>
        <TopStrip />
      </div>
      <div style={place(402, 1911)}>
        <LeftStrip />
      </div>
      <div style={place(494, 1911)}>
        <TomHeatmap />
      </div>
      <div style={place(2344, 1777)}>
        <TomLegend />
      </div>
    </div>
  );
}
